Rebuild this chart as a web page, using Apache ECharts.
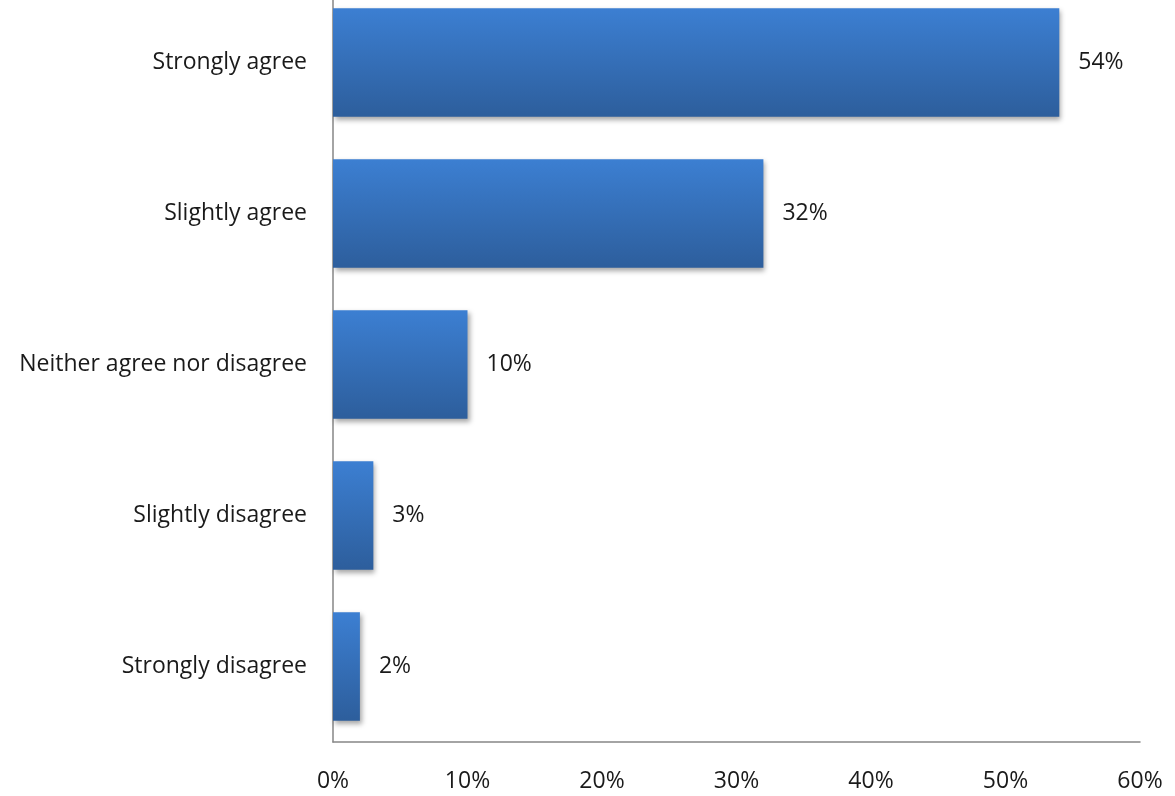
<!DOCTYPE html>
<html>
<head>
<meta charset="utf-8">
<script src="https://cdn.jsdelivr.net/npm/echarts@6/dist/echarts.min.js"></script>
<style>
  html, body { margin: 0; padding: 0; background: #ffffff; overflow: hidden; }
  #chart { width: 1175px; height: 809px; margin-top: -13px; }
</style>
</head>
<body>
<div id="chart"></div>
<script>
// Survey responses, listed bottom to top as the category axis draws them
const categories = ['Strongly disagree', 'Slightly disagree', 'Neither agree nor disagree', 'Slightly agree', 'Strongly agree'];
const shares = [2, 3, 10, 32, 54];
const xTicks = [0, 10, 20, 30, 40, 50, 60];

const chart = echarts.init(document.getElementById('chart'));
const font = '"Open Sans", Lato, sans-serif';

chart.setOption({
  animation: false,
  grid: { left: 333, right: 35, top: 0, bottom: 54, containLabel: false },
  xAxis: {
    type: 'value',
    min: xTicks[0],
    max: xTicks[xTicks.length - 1],
    interval: 10,
    axisLine: { show: true, lineStyle: { color: '#868686', width: 1.5 } },
    axisTick: { show: false },
    splitLine: { show: false },
    axisLabel: {
      formatter: v => v + '%',
      color: '#1a1a1a',
      fontFamily: font,
      fontSize: 23,
      margin: 28
    }
  },
  yAxis: {
    type: 'category',
    data: categories,
    axisLine: { show: true, lineStyle: { color: '#868686', width: 1.5 } },
    axisTick: { show: false },
    axisLabel: {
      color: '#1a1a1a',
      fontFamily: font,
      fontSize: 23,
      margin: 26
    }
  },
  series: [{
    type: 'bar',
    data: shares,
    barWidth: '72%',
    itemStyle: {
      color: new echarts.graphic.LinearGradient(0, 0, 0, 1, [
        { offset: 0, color: '#3c7fd2' },
        { offset: 1, color: '#2d5e9c' }
      ]),
      shadowColor: 'rgba(0,0,0,0.35)',
      shadowBlur: 5,
      shadowOffsetX: 2,
      shadowOffsetY: 3
    },
    label: {
      show: true,
      position: 'right',
      distance: 19,
      formatter: p => p.value + '%',
      color: '#1a1a1a',
      fontFamily: font,
      fontSize: 23
    }
  }]
});
</script>
</body>
</html>
